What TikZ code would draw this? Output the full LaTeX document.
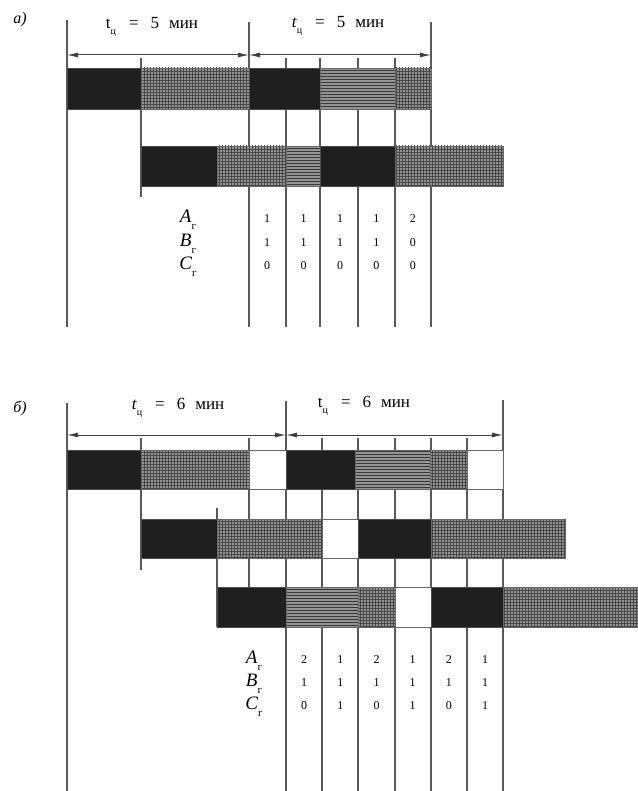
\documentclass[tikz,border=0pt]{standalone}
\usepackage{fontspec}
\setmainfont{Liberation Serif}
\usetikzlibrary{patterns,arrows.meta}
\newcommand\lowsub[1]{\raisebox{-0.7ex}{\fontsize{10}{10}\selectfont #1}}
\newcommand\tlab[2]{#1\lowsub{ц}\hspace{13pt}=\hspace{12pt}#2\hspace{10pt}мин}
\newcommand\rowlab[1]{\textit{#1}\raisebox{-0.8ex}{\fontsize{11}{11}\selectfont г}}
\tikzset{
  ln/.style={draw=black!65, line width=1.1pt},
  dimln/.style={draw=black!75, line width=1pt, {Latex[length=11pt,width=5pt]}-{Latex[length=11pt,width=5pt]}},
  blkcell/.style={fill=black!88, draw=black!70, line width=0.9pt},
  gridcell/.style={preaction={fill=black!42}, pattern=grid, pattern color=black!72, draw=black!60, line width=0.9pt},
  stripecell/.style={preaction={fill=black!42}, pattern=horizontal lines, pattern color=black!78, draw=black!60, line width=0.9pt},
  whitecell/.style={fill=white, draw=black!60, line width=0.9pt},
  lbl/.style={inner sep=0pt, font=\fontsize{17}{17}\selectfont},
  parlbl/.style={inner sep=0pt, font=\fontsize{16}{16}\selectfont\itshape},
  rlab/.style={inner sep=0pt, font=\fontsize{19}{19}\selectfont},
  val/.style={inner sep=0pt, font=\fontsize{12}{12}\selectfont},
}
\newcommand\cell[5]{\path[#1] (#2,#4) rectangle (#3,#5);}
\begin{document}
\begin{tikzpicture}[x=1pt,y=-1pt]
\useasboundingbox (0,0) rectangle (637,791);
\fill[white] (0,0) rectangle (637,791);

% ================= part a =================
\node[parlbl] (pa) at (20,20) {а)};
% grid lines
\draw[ln] (67,20) -- (67,327);
\draw[ln] (141,58) -- (141,197);
\draw[ln] (249,22) -- (249,327);
\foreach \x in {286,320,358,395} \draw[ln] (\x,58) -- (\x,327);
\draw[ln] (431,22) -- (431,327);
% dimension line
\coordinate (a0) at (67,55);
\coordinate (a1) at (249,55);
\coordinate (a2) at (431,55);
\draw[dimln] (a0) -- (a1);
\draw[dimln] (a1) -- (a2);
\node[lbl] (ta1) at (152,27) {\tlab{t}{5}};
\node[lbl] (ta2) at (338,26) {\tlab{\textit{t}}{5}};
% row 1
\cell{blkcell}{67}{141}{68}{109}
\cell{gridcell}{141}{249}{68}{109}
\cell{blkcell}{249}{320}{68}{109}
\cell{stripecell}{320}{395}{68}{109}
\cell{gridcell}{395}{431}{68}{109}
% row 2
\cell{blkcell}{141}{217}{146}{186}
\cell{gridcell}{217}{286}{146}{186}
\cell{stripecell}{286}{320}{146}{186}
\cell{blkcell}{320}{395}{146}{186}
\cell{gridcell}{395}{503}{146}{186}
% table a
\node[rlab] (aA) at (188,220) {\rowlab{A}};
\node[rlab] (aB) at (188,244) {\rowlab{B}};
\node[rlab] (aC) at (188,267) {\rowlab{C}};
\foreach \v [count=\i] in {1,1,1,1,2} \node[val] (aA\i) at (249+36.4*\i-18.2,219) {\v};
\foreach \v [count=\i] in {1,1,1,1,0} \node[val] (aB\i) at (249+36.4*\i-18.2,243) {\v};
\foreach \v [count=\i] in {0,0,0,0,0} \node[val] (aC\i) at (249+36.4*\i-18.2,266) {\v};

% ================= part b =================
\node[parlbl] (pb) at (20,408) {б)};
\draw[ln] (67,403) -- (67,791);
\draw[ln] (141,438) -- (141,570);
\draw[ln] (217,508) -- (217,627);
\draw[ln] (249,438) -- (249,587);
\draw[ln] (286,401) -- (286,791);
\foreach \x in {322,358,395,431,467} \draw[ln] (\x,438) -- (\x,791);
\draw[ln] (503,400) -- (503,791);
% dimension line
\coordinate (b0) at (67,435);
\coordinate (b1) at (286,435);
\coordinate (b2) at (503,435);
\draw[dimln] (b0) -- (b1);
\draw[dimln] (b1) -- (b2);
\node[lbl] (tb1) at (178,408) {\tlab{\textit{t}}{6}};
\node[lbl] (tb2) at (364,406) {\tlab{t}{6}};
% row 1
\cell{blkcell}{67}{141}{450}{489}
\cell{gridcell}{141}{249}{450}{489}
\cell{whitecell}{249}{286}{450}{489}
\cell{blkcell}{286}{355}{450}{489}
\cell{stripecell}{355}{430}{450}{489}
\cell{gridcell}{430}{467}{450}{489}
\cell{whitecell}{467}{503}{450}{489}
% row 2
\cell{blkcell}{141}{217}{519}{558}
\cell{gridcell}{217}{322}{519}{558}
\cell{whitecell}{322}{358}{519}{558}
\cell{blkcell}{358}{431}{519}{558}
\cell{gridcell}{431}{565}{519}{558}
% row 3
\cell{blkcell}{217}{286}{587}{627}
\cell{stripecell}{286}{358}{587}{627}
\cell{gridcell}{358}{395}{587}{627}
\cell{whitecell}{395}{431}{587}{627}
\cell{blkcell}{431}{503}{587}{627}
\cell{gridcell}{503}{640}{587}{627}
% table b
\node[rlab] (bA) at (254,661) {\rowlab{A}};
\node[rlab] (bB) at (254,684) {\rowlab{B}};
\node[rlab] (bC) at (254,707) {\rowlab{C}};
\foreach \v [count=\i] in {2,1,2,1,2,1} \node[val] (bA\i) at (286+36.2*\i-18.1,660) {\v};
\foreach \v [count=\i] in {1,1,1,1,1,1} \node[val] (bB\i) at (286+36.2*\i-18.1,683) {\v};
\foreach \v [count=\i] in {0,1,0,1,0,1} \node[val] (bC\i) at (286+36.2*\i-18.1,706) {\v};
\end{tikzpicture}
\end{document}
